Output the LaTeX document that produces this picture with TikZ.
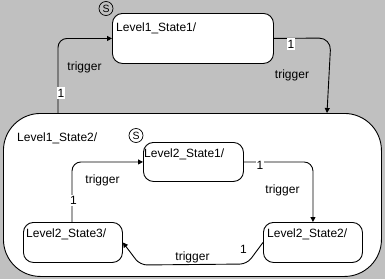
\documentclass[tikz,border=0pt]{standalone}
\usepackage{fontspec}
\setmainfont{Liberation Sans}
\usetikzlibrary{arrows.meta,calc}
\definecolor{bg}{HTML}{C0C0C0}
\begin{document}
\begin{tikzpicture}[x=1pt,y=-1pt, font=\fontsize{12}{14}\selectfont,
 state/.style={draw, fill=white, line width=0.9pt, rounded corners=10pt, anchor=north west, inner sep=0pt},
 conn/.style={draw, line width=0.9pt, -{Triangle[length=5pt,width=5pt]}, rounded corners=9pt},
 lbl/.style={inner sep=1pt},
 onelbl/.style={fill=white, inner xsep=0.8pt, inner ysep=2pt},
 grlbl/.style={fill=white, inner sep=1pt},
 title/.style={anchor=base west, inner sep=0pt},
 hist/.style={circle, draw, line width=0.7pt, minimum size=14pt, inner sep=0pt, font=\fontsize{10.5}{10.5}\selectfont}]
\useasboundingbox (0,0) rectangle (385,279);
\fill[bg] (0,0) rectangle (385,279);
% states
\node[state, rounded corners=37pt, minimum width=378pt, minimum height=163pt] (L12) at (3,113) {};
\node[state, minimum width=161pt, minimum height=50pt] (L11) at (112,13) {};
\node[state, minimum width=100pt, minimum height=39pt] (S21) at (143,142) {};
\node[state, minimum width=99pt, minimum height=40pt] (S22) at (263,222) {};
\node[state, minimum width=99pt, minimum height=40pt] (S23) at (23,222) {};
% titles
\node[title] (t11) at (116,31) {Level1\_State1/};
\node[title] (t12) at (17,141) {Level1\_State2/};
\node[title] (t21) at (144,157) {Level2\_State1/};
\node[title] (t22) at (267,237) {Level2\_State2/};
\node[title] (t23) at (26,237) {Level2\_State3/};
% history markers
\node[hist] (h1) at (106,8.5) {S};
\node[hist] (h2) at (136,135.5) {S};
% connectors
\draw[conn] ($(L12.north west)+(55,0)$) |- (L11.west);
\draw[conn, rounded corners=12pt] (L11.east) -- (331,38) -- ($(L12.north west)+(324,0)$);
\draw[conn] ($(S23.north west)+(49,0)$) |- (S21.west);
\draw[conn] (S21.east) -| (S22.north);
\draw[conn, rounded corners=7pt] (S22.west) -- (247,264) -- (140,265) -- (S23.east);
% labels
\node[onelbl] (o1) at (61,93) {1};
\node[onelbl] (o2) at (291,44) {1};
\node[lbl] (tr1) at (84.5,67.5) {trigger};
\node[lbl] (tr2) at (292,75) {trigger};
\node[grlbl] (o3) at (73.5,200.5) {1};
\node[grlbl] (o4) at (260,165.5) {1};
\node[lbl] (o5) at (243.5,249.5) {1};
\node[lbl] (tr3) at (102.5,180.5) {trigger};
\node[lbl] (tr4) at (282.5,190.5) {trigger};
\node[lbl] (tr5) at (192.5,257) {trigger};
\end{tikzpicture}
\end{document}
